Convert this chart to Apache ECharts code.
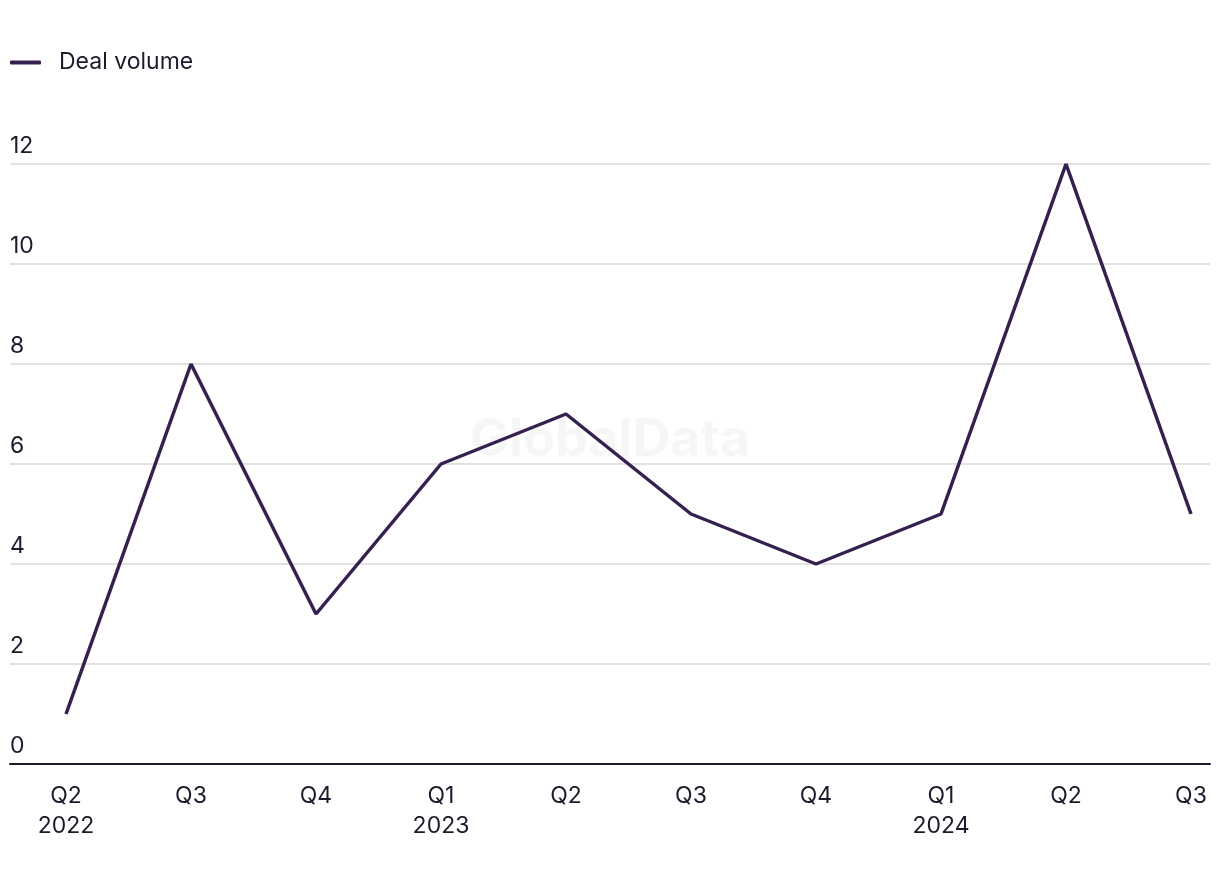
<!DOCTYPE html>
<html>
<head>
<meta charset="utf-8">
<script src="https://cdn.jsdelivr.net/npm/echarts@6/dist/echarts.min.js"></script>
<style>
html,body{margin:0;padding:0;background:#fff;}
#chart{width:1220px;height:884px;}
</style>
</head>
<body>
<div id="chart"></div>
<script>
var categories = ['Q2\n2022','Q3','Q4','Q1\n2023','Q2','Q3','Q4','Q1\n2024','Q2','Q3'];
var dealVolume = [1, 8, 3, 6, 7, 5, 4, 5, 12, 5];
var seriesName = 'Deal volume';
var yMin = 0, yMax = 12, yInterval = 2;

var FONT = 'Inter, "Noto Sans", sans-serif';
var TEXT = '#1c1a2b';
var LINE = '#35204f';

var chart = echarts.init(document.getElementById('chart'), null, {renderer: 'canvas'});
chart.setOption({
  animation: false,
  backgroundColor: '#ffffff',
  textStyle: {fontFamily: FONT},
  graphic: [{
    type: 'text', left: 'center', top: 414, z: 0,
    style: {text: 'GlobalData', font: 'bold 52px ' + FONT, fill: 'rgba(0,0,0,0.035)'}
  }],
  legend: {
    left: 10, top: 51, padding: 0,
    itemWidth: 31, itemHeight: 4, itemGap: 20,
    icon: 'roundRect',
    textStyle: {fontSize: 23, color: TEXT, fontFamily: FONT, padding: [0,0,0,13]},
    data: [seriesName]
  },
  grid: [
    {left: 10, right: 10, top: 164, bottom: 120},
    {left: 66, right: 29, top: 164, bottom: 120}
  ],
  xAxis: [
    {gridIndex: 0, type: 'value', min: 0, max: 1,
     axisLine: {show: true, lineStyle: {color: TEXT, width: 2}},
     axisTick: {show: false}, axisLabel: {show: false}, splitLine: {show: false}},
    {gridIndex: 1, type: 'category', data: categories, boundaryGap: false,
     axisLine: {show: false}, axisTick: {show: false}, splitLine: {show: false},
     axisLabel: {color: TEXT, fontSize: 23, lineHeight: 30, margin: 17, fontFamily: FONT, interval: 0}}
  ],
  yAxis: [
    {gridIndex: 0, type: 'value', min: yMin, max: yMax, interval: yInterval,
     axisLine: {show: false}, axisTick: {show: false},
     splitLine: {show: true, lineStyle: {color: '#d9d9d9', width: 1.5}},
     axisLabel: {inside: true, margin: 0, verticalAlign: 'bottom', padding: [0,0,6,0],
                 color: TEXT, fontSize: 23, fontFamily: FONT}},
    {gridIndex: 1, type: 'value', min: yMin, max: yMax, interval: yInterval, show: false}
  ],
  series: [{
    name: seriesName, type: 'line', xAxisIndex: 1, yAxisIndex: 1,
    data: dealVolume, symbol: 'none', z: 5,
    lineStyle: {color: LINE, width: 3.5}, itemStyle: {color: LINE}
  }]
});
</script>
</body>
</html>
